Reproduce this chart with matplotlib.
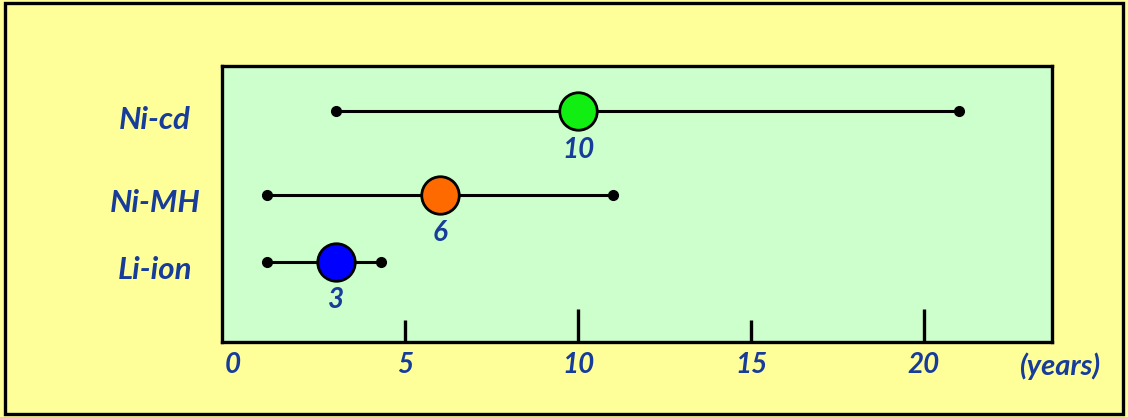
import matplotlib
matplotlib.use("Agg")
import matplotlib.pyplot as plt
from matplotlib.patches import Rectangle
from matplotlib.transforms import blended_transform_factory

# battery lifetime in years: shortest, typical, longest
batteries = ["Ni-cd", "Ni-MH", "Li-ion"]
life_min = [3, 1, 1]
life_typical = [10, 6, 3]
life_max = [21, 11, 4.3]
marker_colors = ["#11EE11", "#FF6A00", "#0000FF"]
row_pos = [2.25, 1.0, 0.0]

x_ticks = [0, 5, 10, 15, 20]
tick_len = [0, 16, 24, 16, 24]

text_blue = "#173C9A"
font = dict(family=["Lato", "DejaVu Sans"], style="italic", weight="bold", color=text_blue)

fig = plt.figure(figsize=(11.28, 4.17), dpi=100)
fig.patch.set_facecolor("#FFFF99")
fig.patches.append(Rectangle((0.004, 0.007), 0.992, 0.986, transform=fig.transFigure,
                             fill=False, edgecolor="black", linewidth=2.4))

ax = fig.add_axes([0.1968, 0.1799, 0.7358, 0.6619])
ax.set_facecolor("#CCFFCC")
for s in ax.spines.values():
    s.set_linewidth(2.4)
ax.set_xlim(-0.3, 23.7)
ax.set_ylim(-1.2, 2.92)
ax.set_yticks([])

for name, lo, typ, hi, c, y in zip(batteries, life_min, life_typical, life_max, marker_colors, row_pos):
    ax.plot([lo, hi], [y, y], color="black", lw=2.2, marker="o", markersize=7, zorder=2)
    ax.plot(typ, y, marker="o", markersize=27, markerfacecolor=c,
            markeredgecolor="black", markeredgewidth=2, zorder=3)
    ax.annotate(str(typ), (typ, y), xytext=(0, -28), textcoords="offset points",
                ha="center", va="center", fontsize=20, **font)
    tr = blended_transform_factory(ax.transAxes, ax.transData)
    ax.text(-0.081, y - 0.13, name, transform=tr, ha="center", va="center",
            fontsize=22.5, **font)

ax.set_xticks(x_ticks)
ax.set_xticklabels([str(t) for t in x_ticks], fontsize=20, **font)
ax.tick_params(axis="x", direction="in", width=2.4, pad=7)
for tk, ln in zip(ax.xaxis.get_major_ticks(), tick_len):
    tk.tick1line.set_markersize(ln)

fig.text(1060 / 1128, 1 - 366 / 417, "(years)", ha="center", va="center", fontsize=21, **font)

fig.savefig("out.png", dpi=100, facecolor=fig.get_facecolor())
